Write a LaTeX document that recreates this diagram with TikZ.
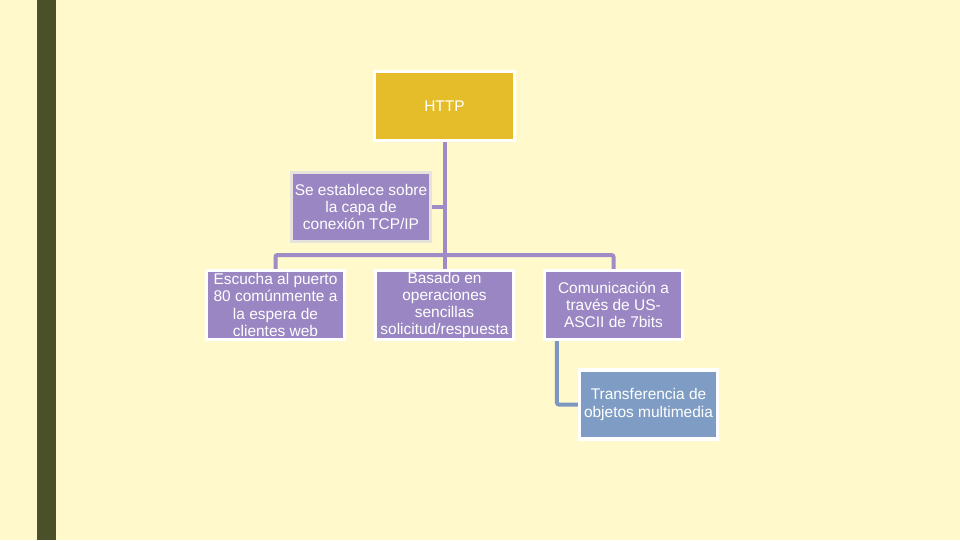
\documentclass[tikz,border=0pt]{standalone}
\usepackage{fontspec}
\setmainfont{Liberation Sans}
\usetikzlibrary{calc,backgrounds}

\definecolor{paper}{RGB}{255,249,204}
\definecolor{sidebar}{RGB}{74,81,40}
\definecolor{gold}{RGB}{229,189,43}
\definecolor{lilac}{RGB}{154,134,194}
\definecolor{lilacline}{RGB}{159,139,198}
\definecolor{steel}{RGB}{127,157,196}
\definecolor{steelline}{RGB}{126,151,192}
\definecolor{frame}{RGB}{230,227,220}

\tikzset{
    box/.style={rectangle, draw=white, line width=2.4pt, text=white,
        align=center, inner sep=0pt, font=\fontsize{11.6}{12.9}\selectfont,
        minimum width=103.5pt, minimum height=51.75pt},
    tree/.style={draw=lilacline, line width=3pt, rounded corners=1.5pt},
}

\begin{document}
\begin{tikzpicture}[x=0.75pt, y=-0.75pt]
    % Page and side bar
    \useasboundingbox (0,0) rectangle (960,540);

    % Top box and the one hanging beside its stem
    \node[box, fill=gold, minimum width=105pt] (http) at (444.5,106) {HTTP};
    \node[box, fill=lilac, draw=frame, minimum width=104pt] (capa) at (361,207)
        {Se establece sobre\\la capa de\\conexión TCP/IP};

    % Second row
    \node[box, fill=lilac] (puerto) at (275.5,305)
        {Escucha al puerto\\80 comúnmente a\\la espera de\\clientes web};
    \node[box, fill=lilac] (basado) at (444.5,305)
        {Basado en\\operaciones\\sencillas\\solicitud/respuesta};
    \node[box, fill=lilac] (ascii) at (613.5,305)
        {Comunicación a\\través de US-\\ASCII de 7bits};

    % Child of the ASCII box
    \node[box, fill=steel] (multi) at (648.5,404.5)
        {Transferencia de\\objetos multimedia};

    \coordinate (split) at (444.5,255);
    \coordinate (asciifoot) at ($(ascii.south west)+(14,0)$);

    \begin{pgfonlayer}{background}
        \fill[paper] (0,0) rectangle (960,540);
        \fill[sidebar] (37,0) rectangle (56,540);

        % Connectors
        \draw[tree] (http.south) -- (split);
        \draw[tree] (capa.east) -- (capa.east -| http.south);
        \draw[tree] (split) -| (puerto.north);
        \draw[tree] (split) -- (basado.north);
        \draw[tree] (split) -| (ascii.north);
        \draw[tree, draw=steelline] (asciifoot) |- (multi.west);
    \end{pgfonlayer}
\end{tikzpicture}
\end{document}
